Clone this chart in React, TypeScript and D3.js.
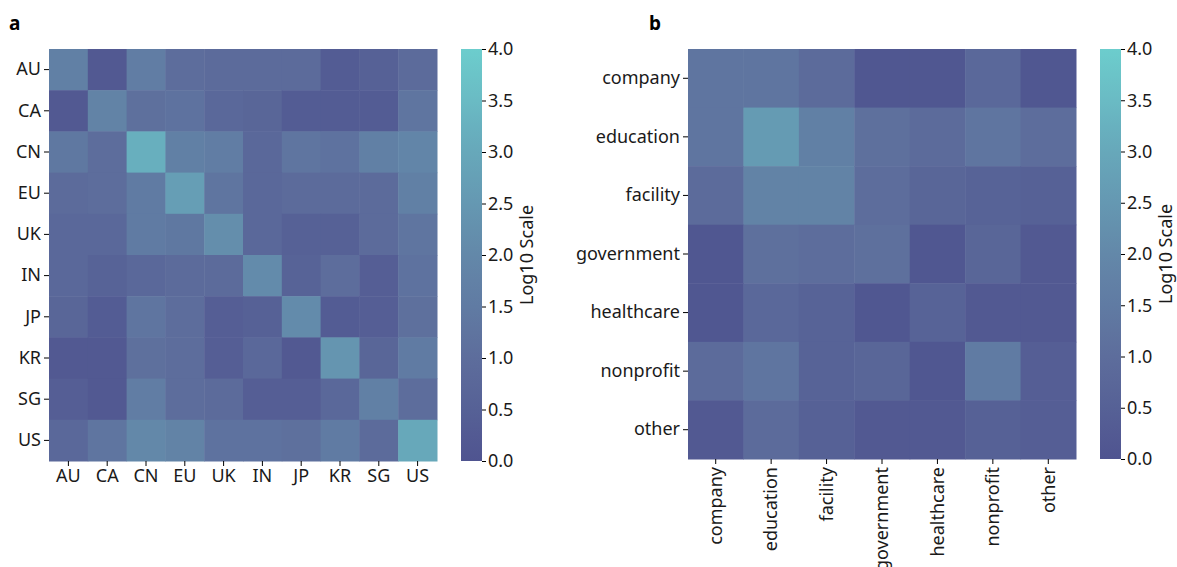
import React, { useRef, useEffect } from "react";
import * as d3 from "d3";

const countries = ["AU", "CA", "CN", "EU", "UK", "IN", "JP", "KR", "SG", "US"];
const countryValues = [
  [1.7, 0.2, 1.6, 1.0, 0.9, 0.9, 0.9, 0.3, 0.5, 0.9],
  [0.2, 1.8, 1.1, 1.2, 0.8, 0.7, 0.3, 0.3, 0.3, 1.3],
  [1.4, 1.0, 3.2, 1.7, 1.6, 0.8, 1.3, 1.2, 1.7, 1.9],
  [0.9, 1.0, 1.5, 2.7, 1.3, 0.8, 0.9, 0.9, 0.9, 1.7],
  [0.8, 0.8, 1.5, 1.4, 2.2, 0.8, 0.5, 0.5, 0.9, 1.3],
  [0.8, 0.6, 0.8, 0.9, 0.9, 2.1, 0.6, 1.0, 0.4, 1.2],
  [0.7, 0.3, 1.3, 1.0, 0.4, 0.5, 2.1, 0.3, 0.4, 1.1],
  [0.2, 0.2, 1.1, 1.0, 0.4, 0.8, 0.2, 2.4, 0.7, 1.5],
  [0.4, 0.2, 1.6, 1.0, 0.9, 0.4, 0.4, 0.8, 1.7, 1.0],
  [0.8, 1.3, 2.0, 1.8, 1.2, 1.2, 1.1, 1.5, 0.9, 3.0],
];

const sectors = ["company", "education", "facility", "government", "healthcare", "nonprofit", "other"];
const sectorValues = [
  [1.3, 1.3, 0.9, 0.1, 0.1, 0.8, 0.1],
  [1.3, 2.6, 1.7, 1.1, 0.9, 1.3, 1.0],
  [0.9, 1.8, 1.8, 1.0, 0.7, 0.6, 0.5],
  [0.1, 1.1, 1.0, 1.1, 0.1, 0.7, 0.2],
  [0.1, 0.8, 0.6, 0.1, 0.6, 0.2, 0.2],
  [0.9, 1.3, 0.6, 0.7, 0.1, 1.5, 0.4],
  [0.2, 0.9, 0.5, 0.2, 0.2, 0.5, 0.4],
];

const colorTicks = [0, 0.5, 1, 1.5, 2, 2.5, 3, 3.5, 4];
const colorStops = ["#4f5490", "#5d6d9c", "#6388a9", "#67a8ba", "#6ccdcd"];

const FONT = "'Noto Sans', sans-serif";
const FS = "18px";

export default function App() {
  const ref = useRef<SVGSVGElement>(null);

  useEffect(() => {
    if (!ref.current) return;
    const svg = d3.select(ref.current);
    svg.selectAll("*").remove();

    const color = d3.scaleLinear<string>().domain([0, 1, 2, 3, 4]).range(colorStops).clamp(true);

    const defs = svg.append("defs");
    const grad = defs.append("linearGradient").attr("id", "cbar").attr("x1", 0).attr("y1", 1).attr("x2", 0).attr("y2", 0);
    d3.range(0, 4.01, 0.25).forEach(v => {
      grad.append("stop").attr("offset", v / 4).attr("stop-color", color(v));
    });

    const drawPanel = (opts: {
      labels: string[]; values: number[][]; x0: number; x1: number; y0: number; y1: number;
      cbX: number; letter: string; letterX: number; rotateX: boolean;
    }) => {
      const { labels, values, x0, x1, y0, y1, cbX, letter, letterX, rotateX } = opts;
      const x = d3.scaleBand().domain(labels).range([x0, x1]);
      const y = d3.scaleBand().domain(labels).range([y0, y1]);
      const g = svg.append("g");

      values.forEach((row, i) => {
        row.forEach((v, j) => {
          g.append("rect")
            .attr("x", x(labels[j])!).attr("y", y(labels[i])!)
            .attr("width", x.bandwidth() + 0.5).attr("height", y.bandwidth() + 0.5)
            .attr("fill", color(v));
        });
      });

      // y axis
      const ya = g.append("g").attr("transform", `translate(${x0},0)`)
        .call(d3.axisLeft(y).tickSize(5).tickPadding(3));
      ya.select(".domain").remove();
      ya.selectAll("text").style("font-family", FONT).style("font-size", FS).attr("fill", "#1a1a1a");

      // x axis
      const xa = g.append("g").attr("transform", `translate(0,${y1})`)
        .call(d3.axisBottom(x).tickSize(5).tickPadding(3));
      xa.select(".domain").remove();
      xa.selectAll("text").style("font-family", FONT).style("font-size", FS).attr("fill", "#1a1a1a");
      if (rotateX) {
        xa.selectAll("text")
          .attr("transform", "rotate(-90)")
          .attr("text-anchor", "end")
          .attr("x", -8).attr("y", 0).attr("dy", "0.35em");
      }

      // colorbar
      const cb = d3.scaleLinear().domain([0, 4]).range([y1, y0]);
      g.append("rect").attr("x", cbX).attr("y", y0).attr("width", 21).attr("height", y1 - y0).attr("fill", "url(#cbar)");
      const ca = g.append("g").attr("transform", `translate(${cbX + 21},0)`)
        .call(d3.axisRight(cb).tickValues(colorTicks).tickFormat(d3.format(".1f")).tickSize(4).tickPadding(2));
      ca.select(".domain").remove();
      ca.selectAll("text").style("font-family", FONT).style("font-size", FS).attr("fill", "#1a1a1a");

      g.append("text")
        .attr("transform", `translate(${cbX + 72},${(y0 + y1) / 2}) rotate(-90)`)
        .attr("text-anchor", "middle")
        .style("font-family", FONT).style("font-size", FS).attr("fill", "#1a1a1a")
        .text("Log10 Scale");

      g.append("text")
        .attr("x", letterX).attr("y", 30)
        .style("font-family", FONT).style("font-size", "19px").style("font-weight", "bold")
        .text(letter);
    };

    drawPanel({ labels: countries, values: countryValues, x0: 49, x1: 437, y0: 49, y1: 461, cbX: 461, letter: "a", letterX: 9, rotateX: false });
    drawPanel({ labels: sectors, values: sectorValues, x0: 688, x1: 1076, y0: 49, y1: 459, cbX: 1100, letter: "b", letterX: 649, rotateX: true });
  }, []);

  return (
    <div style={{ position: "absolute", left: 0, top: 0, background: "#fff" }}>
      <svg ref={ref} width={1177} height={567} />
    </div>
  );
}
